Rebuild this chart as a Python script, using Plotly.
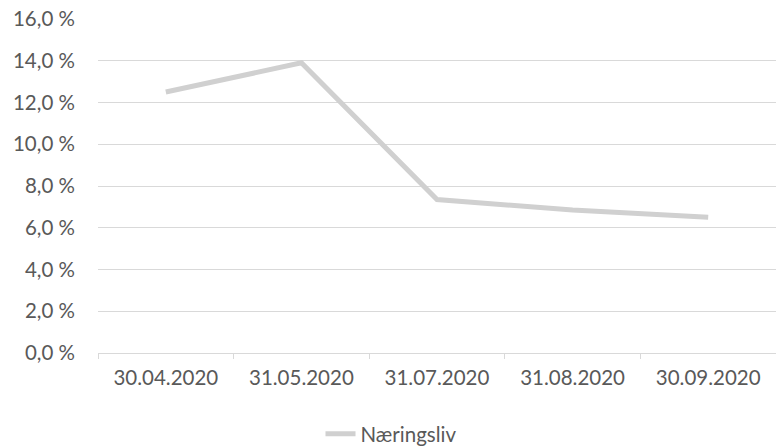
import plotly.graph_objects as go

categories = ["30.04.2020", "31.05.2020", "31.07.2020", "31.08.2020", "30.09.2020"]
naeringsliv = [12.5, 13.9, 7.35, 6.85, 6.5]
y_ticks = [0, 2, 4, 6, 8, 10, 12, 14, 16]
y_labels = ["0,0 %", "2,0 %", "4,0 %", "6,0 %", "8,0 %", "10,0 %", "12,0 %", "14,0 %", "16,0 %"]

fig = go.Figure()
fig.add_trace(go.Scatter(
    x=categories, y=naeringsliv, mode="lines", name="Næringsliv",
    line=dict(color="#d0d0d0", width=5),
))

font_family = "Lato, Open Sans, sans-serif"
fs = 20.5
fig.update_layout(
    width=776, height=447,
    margin=dict(l=98, r=0, t=19, b=94, autoexpand=False),
    plot_bgcolor="white", paper_bgcolor="white",
    font=dict(family=font_family, size=fs, color="#595959"),
    showlegend=True,
    legend=dict(orientation="h", xref="container", x=391 / 776, xanchor="center",
                yref="container", y=13 / 447, yanchor="middle",
                itemwidth=30,
                font=dict(size=fs, color="#595959")),
    xaxis=dict(
        type="category", showgrid=False, showline=True, linecolor="#d9d9d9", linewidth=1,
        ticks="outside", tickson="boundaries", ticklen=5, tickcolor="#d9d9d9",
        ticklabelstandoff=6,
        tickfont=dict(size=fs, color="#595959"), range=[-0.5, 4.5],
    ),
    yaxis=dict(
        range=[0, 16], tickvals=y_ticks, ticktext=y_labels,
        showgrid=True, gridcolor="#d9d9d9", gridwidth=1, zeroline=False,
        showline=False, ticks="", ticklabelstandoff=22,
        tickfont=dict(size=fs, color="#595959"),
    ),
)
fig.write_html("out.html", config={"displayModeBar": False},
               post_script="document.body.style.margin='0';document.body.style.overflow='hidden';")
